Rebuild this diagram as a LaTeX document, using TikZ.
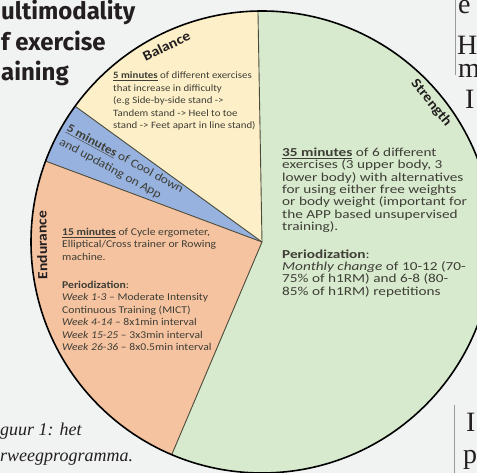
\documentclass[tikz,border=0pt]{standalone}
\usepackage{fontspec}
\setmainfont{Carlito}[FakeStretch=1.12]
\newfontfamily\widefont{Carlito}[FakeStretch=1.25]
\newfontfamily\headfont{Fira Sans}
\newfontfamily\pagefont{Liberation Serif}
\usetikzlibrary{calc}

\definecolor{pagebg}{HTML}{F1F2F2}
\definecolor{strengthgreen}{HTML}{D8EACE}
\definecolor{balanceyellow}{HTML}{FDF0C8}
\definecolor{cooldownblue}{HTML}{97B2DE}
\definecolor{endurancepeach}{HTML}{F6C3A0}
\definecolor{linegray}{HTML}{4B4B3C}
\definecolor{inkbody}{HTML}{3E3E36}
\definecolor{inkdark}{HTML}{231F20}
\definecolor{rulegray}{HTML}{9A9A9A}

\begin{document}
\begin{tikzpicture} [
    x=1pt, y=1pt,
    divider/.style = {draw=linegray, line width=0.9pt},
    rim/.style = {draw=black, line width=1.6pt},
    sectorlabel/.style = {font=\fontsize{14}{14}\selectfont\bfseries, text=inkdark, inner sep=0pt},
    bodytext/.style = {align=left, inner sep=0pt, text=inkbody, anchor=north west},
    pagetext/.style = {font=\pagefont\fontsize{28}{28}\selectfont, text=inkdark, inner sep=0pt, anchor=base west},
]
    \useasboundingbox (0,0) rectangle (477,473);
    \fill[pagebg] (0,0) rectangle (477,473);
    \clip (0,0) rectangle (477,473);

    % pie chart
    \coordinate (c) at (262,231);
    \def\rad{231}
    \fill[strengthgreen] (c) -- ++(247:\rad) arc[start angle=247, end angle=451, radius=\rad] -- cycle;
    \fill[balanceyellow] (c) -- ++(91:\rad) arc[start angle=91, end angle=144, radius=\rad] -- cycle;
    \fill[cooldownblue] (c) -- ++(144:\rad) arc[start angle=144, end angle=159.5, radius=\rad] -- cycle;
    \fill[endurancepeach] (c) -- ++(159.5:\rad) arc[start angle=159.5, end angle=247, radius=\rad] -- cycle;

    \path (c) ++(91:\rad) coordinate (rimSB);
    \path (c) ++(144:\rad) coordinate (rimBC);
    \path (c) ++(159.5:\rad) coordinate (rimCE);
    \path (c) ++(247:\rad) coordinate (rimES);
    \foreach \r in {rimSB, rimBC, rimCE, rimES}
        \draw[divider] (c) -- (\r);
    \draw[rim] (c) circle (\rad);

    % sector names
    \node[sectorlabel, rotate=26] (balance) at ($(c)+(116:218)$) {Balance};
    \node[sectorlabel, rotate=-50.6] (strength) at ($(c)+(39.4:219)$) {Strength};
    \node[sectorlabel, rotate=90.8] (endurance) at ($(c)+(180.8:220)$) {Endurance};

    % sector texts
    \node[bodytext, font=\fontsize{9.7}{12.5}\selectfont] (balancetxt) at (113,401) {\underline{\textbf{5 minutes}} of different exercises\\ that increase in difficulty\\ (e.g Side-by-side stand ->\\ Tandem stand -> Heel to toe\\ stand -> Feet apart in line stand)};
    \node[bodytext, font=\fontsize{12}{15.5}\selectfont, rotate=-28.5] (cooldowntxt) at (70,350) {\underline{\textbf{5 minutes}} of Cool down\\ and updating on App};
    \node[bodytext, font=\widefont\fontsize{12.2}{12.4}\selectfont] (strengthtxt) at (282,325.5) {\underline{\textbf{35 minutes}} of 6 different\\ exercises (3 upper body, 3\\ lower body) with alternatives\\ for using either free weights\\ or body weight (important for\\ the APP based unsupervised\\ training).\\[15pt] \textbf{Periodization}:\\ \textit{Monthly change} of 10-12 (70-\\ 75\% of h1RM) and 6-8 (80-\\ 85\% of h1RM) repetitions};
    \node[bodytext, font=\fontsize{10.4}{12.5}\selectfont] (endurancetxt) at (62,245) {\underline{\textbf{15 minutes}} of Cycle ergometer,\\ Elliptical/Cross trainer or Rowing\\ machine.\\[15.5pt] \textbf{Periodization}:\\ \textit{Week 1-3} -- Moderate Intensity\\ Continuous Training (MICT)\\ \textit{Week 4-14} -- 8x1min interval\\ \textit{Week 15-25} -- 3x3min interval\\ \textit{Week 26-36} -- 8x0.5min interval};

    % surrounding page
    \node[font=\headfont\bfseries\fontsize{24}{30.5}\selectfont, text=inkdark, align=left, inner sep=0pt, anchor=north west] (title) at (1,473) {ultimodality\\ f exercise\\ aining};
    \node[font=\pagefont\itshape\fontsize{18}{26}\selectfont, text=inkdark, align=left, inner sep=0pt, anchor=north west] (caption) at (0,50) {guur 1: het\\ rweegprogramma.};
    \draw[rulegray, line width=0.8pt] (455,473) -- (455,398);
    \draw[rulegray, line width=0.8pt] (454,68) -- (454,0);
    \node[pagetext] (pe) at (458,459) {e};
    \node[pagetext] (ph) at (457,418) {H};
    \node[pagetext] (pm) at (458,395) {m};
    \node[pagetext] (pi) at (465,364) {I};
    \node[pagetext] (pI) at (466,41) {I};
    \node[pagetext] (pp) at (463,9) {p};
\end{tikzpicture}
\end{document}
